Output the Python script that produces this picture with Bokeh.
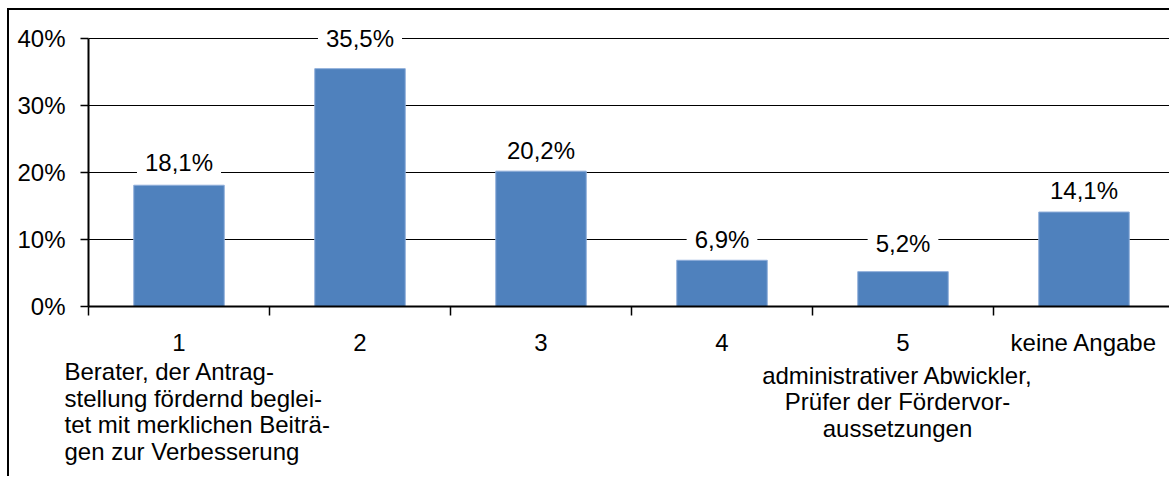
from bokeh.plotting import figure
from bokeh.models import Range1d, FixedTicker, Label
from bokeh.core.properties import value
from bokeh.embed import file_html
from bokeh.resources import INLINE

# ---- data ----
categories = ["1", "2", "3", "4", "5", "keine Angabe"]
values = [18.1, 35.5, 20.2, 6.9, 5.2, 14.1]
y_ticks = [0, 10, 20, 30, 40]
note_left = ["Berater, der Antrag-", "stellung fördernd beglei-",
             "tet mit merklichen Beiträ-", "gen zur Verbesserung"]
note_right = ["administrativer Abwickler,", "Prüfer der Fördervor-",
              "aussetzungen"]

FONT = "Liberation Sans"
FS = "24px"
BAR = "#4F81BD"

xs = [i + 0.5 for i in range(len(categories))]

# page geometry (pixels)
X0, Y0 = 9, 10            # canvas origin on the page (after margin + border)
AXIS_X = 88               # page x of y axis
ZERO_Y = 306              # page y of 0 %
cat_px = 181.0
pct_px = 6.7
W = 1171 - X0
ML, MR, MT = AXIS_X - X0, 0, 10
H1 = 352
frame_h = ZERO_Y - (Y0 + MT)
MB = H1 - MT - frame_h
frame_w = W - ML - MR

p = figure(width=W, height=H1,
           x_range=Range1d(0, frame_w / cat_px),
           y_range=Range1d(0, frame_h / pct_px),
           output_backend="svg", toolbar_location=None,
           min_border_left=ML, min_border_right=MR,
           min_border_top=MT, min_border_bottom=MB)
p.outline_line_color = None
p.background_fill_color = "white"
p.border_fill_color = "white"

# grid
p.xgrid.visible = False
p.ygrid.ticker = FixedTicker(ticks=y_ticks)
p.ygrid.grid_line_color = "black"
p.ygrid.grid_line_width = 1

# y axis
ya = p.yaxis[0]
ya.ticker = FixedTicker(ticks=y_ticks)
ya.bounds = (0, 40)
ya.major_label_overrides = {t: f"{t}%" for t in y_ticks}
ya.axis_line_color = "black"
ya.axis_line_width = 2
ya.major_tick_out = 8
ya.major_tick_in = 0
ya.major_tick_line_color = "black"
ya.major_tick_line_width = 1.5
ya.minor_tick_line_color = None
ya.major_label_standoff = 15
ya.major_label_text_font = FONT
ya.major_label_text_font_size = FS
ya.major_label_text_color = "black"

# x axis: labels at centres, ticks at category boundaries
xa = p.xaxis[0]
xa.ticker = FixedTicker(ticks=xs, minor_ticks=list(range(len(categories) + 1)))
xa.major_label_overrides = {x: c for x, c in zip(xs, categories)}
xa.axis_line_color = "black"
xa.axis_line_width = 2
xa.major_tick_line_color = None
xa.major_tick_out = 0
xa.major_tick_in = 0
xa.minor_tick_line_color = "black"
xa.minor_tick_line_width = 1.5
xa.minor_tick_out = 9
xa.minor_tick_in = 0
xa.major_label_standoff = 13
xa.major_label_text_font = FONT
xa.major_label_text_font_size = FS
xa.major_label_text_color = "black"

# bars
p.vbar(x=xs, top=values, bottom=0, width=0.5,
       fill_color=BAR, line_color="#8FAEDA", line_width=1)

# value labels
offsets = [22.7, 29.9, 20.7, 20.3, 28.2, 22.0]
for x, v, off in zip(xs, values, offsets):
    txt = f"{v:.1f}".replace(".", ",") + "%"
    p.add_layout(Label(x=x, y=v, text=txt, y_offset=off,
                       text_align="center", text_baseline="middle",
                       text_font=FONT, text_font_size=FS, text_color="black",
                       background_fill_color="white", padding=(8, 3)))

p.styles = {"margin-left": "7px", "margin-top": "8px",
            "border-left": "2px solid black", "border-top": "2px solid black"}

# ---- notes panel below the chart (page y used directly, flipped range) ----
top2 = Y0 + H1
H2 = 124
p2 = figure(width=W, height=H2,
            x_range=Range1d((X0 - AXIS_X) / cat_px, (X0 + W - AXIS_X) / cat_px),
            y_range=Range1d(top2 + H2, top2),
            x_axis_location=None, y_axis_location=None,
            output_backend="svg", toolbar_location=None,
            min_border_left=0, min_border_right=0,
            min_border_top=0, min_border_bottom=0)
p2.grid.visible = False
p2.outline_line_color = None
p2.background_fill_alpha = 0
p2.border_fill_alpha = 0
p2.styles = {"margin-left": "7px", "margin-top": "-8px",
             "border-left": "2px solid black"}

lx = (64 - AXIS_X) / cat_px
ly = [381 + 26.5 * i for i in range(len(note_left))]
p2.text(x=[lx] * len(note_left), y=ly, text=note_left,
        text_align="left", text_baseline="alphabetic",
        text_font=value(FONT), text_font_size=value(FS), text_color="black")

rx = (897 - AXIS_X) / cat_px
ry = [385 + 26.3 * i for i in range(len(note_right))]
p2.text(x=[rx] * len(note_right), y=ry, text=note_right,
        text_align="center", text_baseline="alphabetic",
        text_font=value(FONT), text_font_size=value(FS), text_color="black")

open("out.html", "w").write(file_html([p, p2], INLINE))
